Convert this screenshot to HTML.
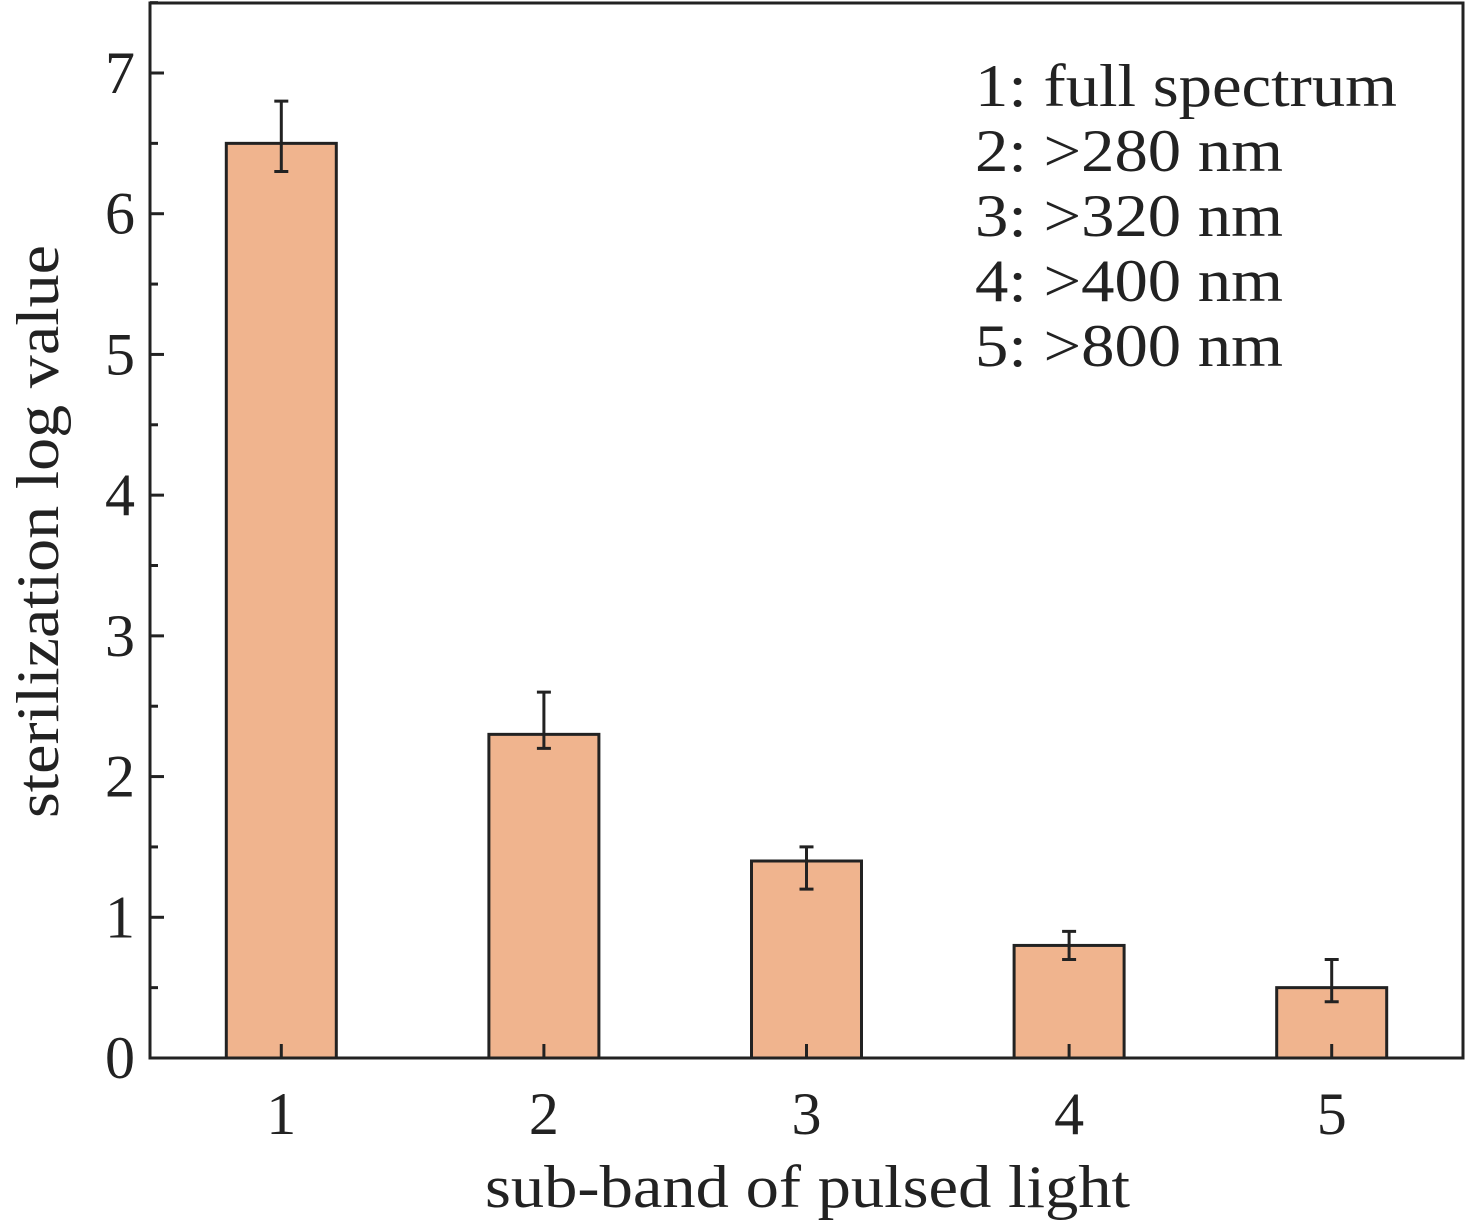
<!DOCTYPE html>
<html><head><meta charset="utf-8"><style>
html,body{margin:0;padding:0;background:#fff;}
svg{display:block;font-family:"Liberation Serif",serif;}
</style></head><body>
<svg id="chart" width="1465" height="1229" viewBox="0 0 1465 1229" xmlns="http://www.w3.org/2000/svg">
<g id="plot"></g>
<g font-size="60" fill="#222" lengthAdjust="spacingAndGlyphs">
<text x="975" y="106" textLength="422" lengthAdjust="spacingAndGlyphs">1: full spectrum</text>
<text x="975" y="171" textLength="308" lengthAdjust="spacingAndGlyphs">2: &gt;280 nm</text>
<text x="975" y="236" textLength="308" lengthAdjust="spacingAndGlyphs">3: &gt;320 nm</text>
<text x="975" y="301" textLength="308" lengthAdjust="spacingAndGlyphs">4: &gt;400 nm</text>
<text x="975" y="366" textLength="308" lengthAdjust="spacingAndGlyphs">5: &gt;800 nm</text>
</g>
<text x="485" y="1207" font-size="60" fill="#222" textLength="645" lengthAdjust="spacingAndGlyphs">sub-band of pulsed light</text>
<text transform="translate(58,818) rotate(-90)" font-size="60" fill="#222" textLength="573" lengthAdjust="spacingAndGlyphs">sterilization log value</text>
</svg>
<script>
const categories = ["1","2","3","4","5"];
const values = [6.5, 2.3, 1.4, 0.8, 0.5];
const errLow = [6.3, 2.2, 1.2, 0.7, 0.4];
const errHigh = [6.8, 2.6, 1.5, 0.9, 0.7];
const yTicks = [0,1,2,3,4,5,6,7];

const NS="http://www.w3.org/2000/svg";
const L=150,R=1463,T=3,B=1058;
const x=i=>L+(i+0.5)*(R-L)/5;
const y=v=>B-v*(B-73)/7;
const g=document.getElementById('plot');
function mk(tag,attrs){const e=document.createElementNS(NS,tag);for(const k in attrs)e.setAttribute(k,attrs[k]);g.appendChild(e);return e;}
const stroke="#222";
categories.forEach((c,i)=>{
  const bw=110;
  const r=mk('rect',{x:x(i)-bw/2,y:y(values[i]),width:bw,height:y(0)-y(values[i]),fill:"#f0b48e",stroke:stroke,'stroke-width':3});
  
  
  const el=mk('path',{d:`M${x(i)},${y(errLow[i])}V${y(errHigh[i])}M${x(i)-7},${y(errLow[i])}H${x(i)+7}M${x(i)-7},${y(errHigh[i])}H${x(i)+7}`,stroke:stroke,'stroke-width':3,fill:"none"});
  
  
  const tk=mk('line',{x1:x(i),x2:x(i),y1:B,y2:B-14,stroke:stroke,'stroke-width':3});
  
  
  const t=mk('text',{x:x(i),y:1134,'font-size':60,'text-anchor':'middle',fill:"#222"});
  t.textContent=c;
  
  
});
yTicks.forEach(v=>{
  const tk=mk('line',{x1:L,x2:L+14,y1:y(v),y2:y(v),stroke:stroke,'stroke-width':3});
  
  
  const m=mk('line',{x1:L,x2:L+8,y1:y(v+0.5),y2:y(v+0.5),stroke:stroke,'stroke-width':3});
  
  
  const t=mk('text',{x:L-15,y:y(v)+20,'font-size':60,'text-anchor':'end',fill:"#222"});
  t.textContent=v;
  
  
});
const f=mk('rect',{x:L,y:T,width:R-L,height:B-T,fill:"none",stroke:stroke,'stroke-width':3});


</script>
</body></html>
